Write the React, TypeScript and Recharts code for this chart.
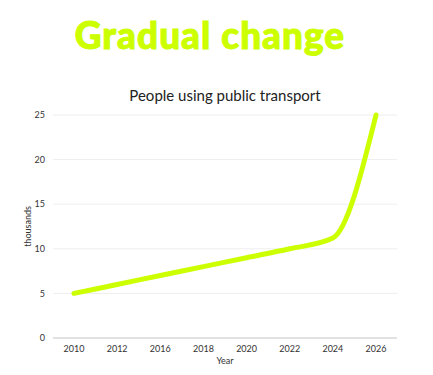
import { LineChart, Line, XAxis, YAxis, CartesianGrid } from 'recharts'

const years = ['2010', '2012', '2016', '2018', '2020', '2022', '2024', '2026']
const people = [5, 6, 7, 8, 9, 10, 11.2, 25]
const yTicks = [0, 5, 10, 15, 20, 25]

const data = years.map((year, i) => ({ year, people: people[i] }))

const tickStyle = { fontSize: 9, fill: '#333', fontFamily: 'Lato, sans-serif' }

export default function App() {
    return (
        <div style={{ position: 'absolute', left: 0, top: 0, width: 433, height: 375, background: '#fff', fontFamily: 'Lato, sans-serif' }}>
            <div
                style={{
                    position: 'absolute',
                    left: 0,
                    width: 420,
                    top: 12,
                    textAlign: 'center',
                    fontFamily: 'Lato, sans-serif',
                    fontWeight: 900,
                    fontSize: 37,
                    letterSpacing: 1,
                    color: '#ccff00',
                    WebkitTextStroke: '1px #ccff00',
                }}
            >
                Gradual change
            </div>
            <div
                style={{
                    position: 'absolute',
                    left: 0,
                    width: 450,
                    top: 86,
                    textAlign: 'center',
                    fontFamily: 'Lato, sans-serif',
                    fontSize: 15,
                    color: '#222',
                }}
            >
                People using public transport
            </div>
            <div style={{ position: 'absolute', left: 0, top: 0 }}>
                <LineChart width={433} height={375} data={data} margin={{ top: 115, right: 36, bottom: 7, left: 13 }}>
                    <CartesianGrid vertical={false} stroke="#eee" />
                    <XAxis
                        dataKey="year"
                        padding={{ left: 21, right: 21 }}
                        tickLine={false}
                        axisLine={{ stroke: '#ccc' }}
                        tick={tickStyle}
                        height={30}
                        label={{ value: 'Year', position: 'insideBottom', offset: 4, style: { fontSize: 9, fill: '#333' } }}
                    />
                    <YAxis
                        domain={[0, 25]}
                        ticks={yTicks}
                        tickLine={false}
                        axisLine={false}
                        tick={tickStyle}
                        width={40}
                        label={{ value: 'thousands', angle: -90, position: 'insideLeft', offset: 15, style: { fontSize: 9, fill: '#333', textAnchor: 'middle' } }}
                    />
                    <Line
                        type="monotone"
                        dataKey="people"
                        stroke="#ccff00"
                        strokeWidth={5}
                        strokeLinecap="round"
                        dot={false}
                        isAnimationActive={false}
                    />
                </LineChart>
            </div>
        </div>
    )
}
